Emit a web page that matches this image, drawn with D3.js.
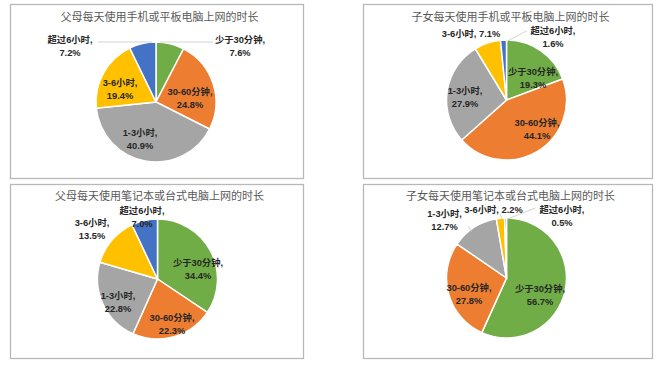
<!DOCTYPE html>
<html><head><meta charset="utf-8">
<script src="https://cdn.jsdelivr.net/npm/d3@7"></script>
<style>
html,body{margin:0;padding:0;background:#fff;}
svg{display:block;}
</style></head>
<body>
<script>
// ---- data ----
const categories = ["少于30分钟", "30-60分钟", "1-3小时", "3-6小时", "超过6小时"];
const titles = [
  "父母每天使用手机或平板电脑上网的时长",
  "子女每天使用手机或平板电脑上网的时长",
  "父母每天使用笔记本或台式电脑上网的时长",
  "子女每天使用笔记本或台式电脑上网的时长"
];
const parentsPhone   = [7.6, 24.8, 40.9, 19.4, 7.2];
const childrenPhone  = [19.3, 44.1, 27.9, 7.1, 1.6];
const parentsPC      = [34.4, 22.3, 22.8, 13.5, 7.0];
const childrenPC     = [56.7, 27.8, 12.7, 2.2, 0.5];
const seriesList = [parentsPhone, childrenPhone, parentsPC, childrenPC];
const colors = ["#70AD47", "#ED7D31", "#A5A5A5", "#FFC000", "#4472C4"];

// ---- layout (styling only) ----
const panels = [
  {x:10,  y:4,   w:293, h:174, cx:156,   cy:102, titleY:21},
  {x:363, y:4,   w:289, h:174, cx:506.5, cy:100, titleY:21},
  {x:10,  y:184, w:293, h:174, cx:157.5, cy:279, titleY:200},
  {x:363, y:184, w:289, h:174, cx:506.5, cy:278, titleY:200}
];
const R = 60;
const labelLayout = [
  [ {dx:84,dy:-56, leader:[4,-60,57,-60]}, {dx:34,dy:-4}, {dx:-16,dy:37}, {dx:-36,dy:-13}, {dx:-86,dy:-56, leader:[-58,-60,-4,-60]} ],
  [ {dx:26.5,dy:-22}, {dx:30.5,dy:29}, {dx:-41.5,dy:-3}, {dx:-35.5,dy:-66, single:true}, {dx:46.5,dy:-62.5, leader:[1,-59,20,-69]} ],
  [ {dx:40.5,dy:-10}, {dx:14.5,dy:45.5}, {dx:-39.5,dy:23.5}, {dx:-65.5,dy:-49.5}, {dx:-15.5,dy:-61.5} ],
  [ {dx:33.5,dy:17.5}, {dx:-37.5,dy:16}, {dx:-62,dy:-57.5, leader:[-38,-52,-35,-46]}, {dx:-13,dy:-68, single:true, leader:[-6,-64,-5,-59]}, {dx:55.5,dy:-61.5, leader:[1,-59,29,-70]} ]
];

const W = 660, H = 366;
const svg = d3.select("body").append("svg").attr("width", W).attr("height", H);
const pie = d3.pie().sort(null).value(d => d).startAngle(0).endAngle(2*Math.PI);
const arc = d3.arc().innerRadius(0).outerRadius(R);
const fmt = d3.format(".1f");
const TITLE_FONT = "'Noto Sans CJK SC','Noto Sans',sans-serif";
const LABEL_FONT = "'Liberation Sans','Noto Sans CJK SC',sans-serif";

panels.forEach((p, i) => {
  const g = svg.append("g");
  g.append("rect").attr("x", p.x + 0.5).attr("y", p.y + 0.5)
    .attr("width", p.w).attr("height", p.h)
    .attr("fill", "#fff").attr("stroke", "#b8b8b8").attr("stroke-width", 1.3);
  g.append("text").attr("x", p.x + p.w/2 + 3).attr("y", p.titleY)
    .attr("text-anchor", "middle").attr("font-family", TITLE_FONT)
    .attr("font-size", 11).attr("fill", "#595959").text(titles[i]);

  const pg = g.append("g").attr("transform", `translate(${p.cx},${p.cy})`);
  const arcs = pie(seriesList[i]);
  pg.selectAll("path.slice").data(arcs).join("path").attr("class", "slice")
    .attr("d", arc).attr("fill", (d, k) => colors[k])
    .attr("stroke", "#fff").attr("stroke-width", 1.5);

  labelLayout[i].forEach(l => {
    if (l.leader) {
      pg.append("line").attr("x1", l.leader[0]).attr("y1", l.leader[1])
        .attr("x2", l.leader[2]).attr("y2", l.leader[3])
        .attr("stroke", "#c8c8c8").attr("stroke-width", 0.8);
    }
  });

  arcs.forEach((a, k) => {
    const l = labelLayout[i][k];
    const t = pg.append("text").attr("text-anchor", "middle")
      .attr("font-family", LABEL_FONT).attr("font-size", 9.3).attr("font-weight", 700)
      .attr("fill", "#262626").attr("dominant-baseline", "central");
    const pct = fmt(a.data) + "%";
    if (l.single) {
      t.append("tspan").attr("x", l.dx).attr("y", l.dy).text(categories[k] + ", " + pct);
    } else {
      t.append("tspan").attr("x", l.dx).attr("y", l.dy - 6.5).text(categories[k] + ",");
      t.append("tspan").attr("x", l.dx).attr("y", l.dy + 6.5).text(pct);
    }
  });
});
</script>
</body></html>
